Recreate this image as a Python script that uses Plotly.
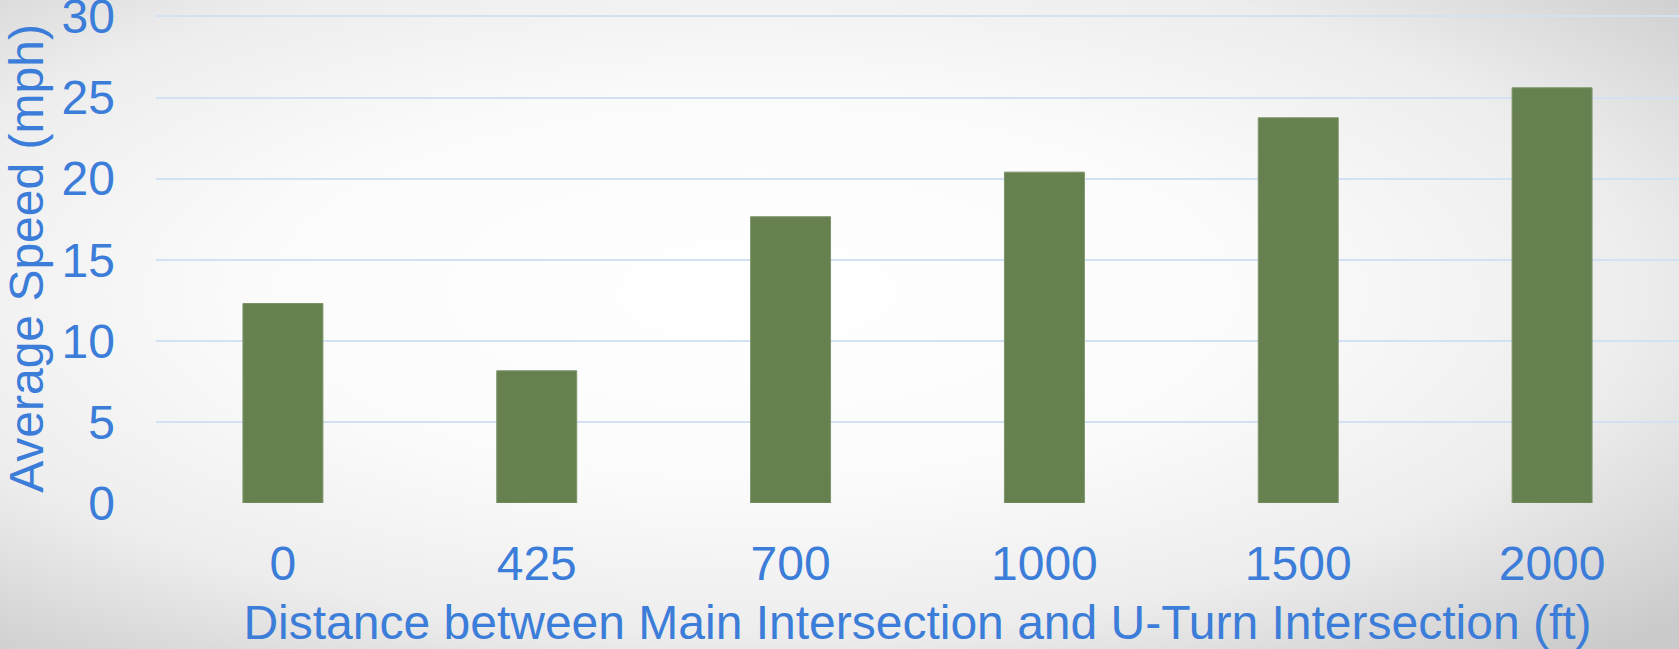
import base64
import plotly.graph_objects as go

categories = ["0", "425", "700", "1000", "1500", "2000"]
avg_speed = [12.3, 8.15, 17.65, 20.4, 23.75, 25.6]
y_ticks = [0, 5, 10, 15, 20, 25, 30]

W, H = 1679, 649
ML, MR, MT, MB = 156, 0, 14, 146
pw, ph = W - ML - MR, H - MT - MB

svg = (
    '<svg xmlns="http://www.w3.org/2000/svg" width="1679" height="649" '
    'viewBox="0 0 1679 649" preserveAspectRatio="none">'
    '<defs><radialGradient id="g" cx="0.45" cy="0.45" r="0.75" fx="0.45" fy="0.45">'
    '<stop offset="0" stop-color="#ffffff"/>'
    '<stop offset="0.4" stop-color="#fbfbfb"/>'
    '<stop offset="0.7" stop-color="#ededed"/>'
    '<stop offset="1" stop-color="#cbcacb"/>'
    '</radialGradient></defs>'
    '<rect width="1679" height="649" fill="url(#g)"/></svg>'
)
src = "data:image/svg+xml;base64," + base64.b64encode(svg.encode()).decode()

blue = "#3b7dd8"
font = "Liberation Sans, Arial, sans-serif"

fig = go.Figure(
    go.Bar(x=categories, y=avg_speed, marker=dict(color="#67804f", line=dict(color="#7d946a", width=1)))
)
fig.update_layout(
    width=W, height=H,
    margin=dict(l=ML, r=MR, t=MT, b=MB, autoexpand=False),
    paper_bgcolor="#ffffff",
    plot_bgcolor="rgba(0,0,0,0)",
    bargap=0.685,
    showlegend=False,
    font=dict(family=font, color=blue, size=48),
    images=[dict(
        source=src, xref="paper", yref="paper",
        x=-ML / pw, y=1 + MT / ph, sizex=W / pw, sizey=H / ph,
        xanchor="left", yanchor="top", sizing="stretch", layer="below",
    )],
)
fig.update_xaxes(
    type="category", showgrid=False, zeroline=False, showline=False, automargin=False,
    ticks="", tickfont=dict(size=48, color=blue), ticklabelstandoff=28,
    title=dict(text="Distance between Main Intersection and U-Turn Intersection (ft)",
               font=dict(size=48, color=blue), standoff=20),
)
fig.update_yaxes(
    range=[0, 30.15], tickvals=y_ticks, showgrid=True, gridcolor="#d3e1f5", gridwidth=2,
    zeroline=False, showline=False, ticks="", ticklabeloverflow="allow", automargin=False,
    tickfont=dict(size=48, color=blue), ticklabelstandoff=40,
    title=dict(text="Average Speed (mph)", font=dict(size=48, color=blue), standoff=4),
)
fig.write_html("out.html")
